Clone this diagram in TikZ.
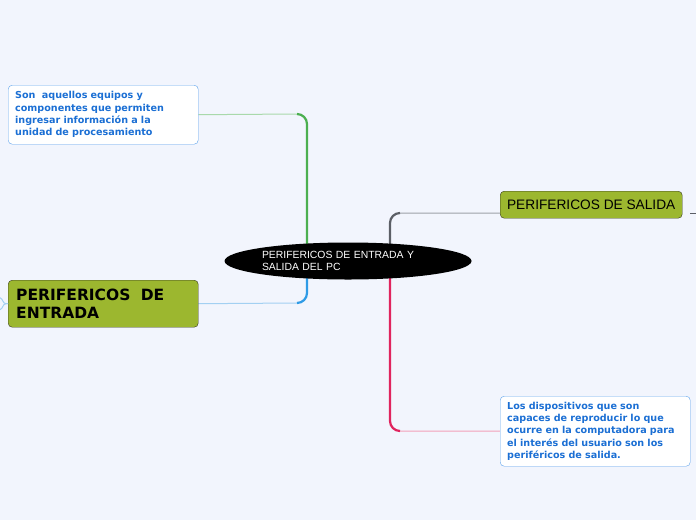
\documentclass[tikz,border=0pt]{standalone}
\usepackage{fontspec}
\setmainfont{Liberation Sans}
\newfontfamily\dejavu{DejaVu Sans}
\usetikzlibrary{shapes.geometric,backgrounds}

\definecolor{fondo}{HTML}{F2F5FD}
\definecolor{oliva}{HTML}{9CB72F}
\definecolor{bordeoliva}{HTML}{3A3C22}
\definecolor{azultexto}{HTML}{1B6FD4}
\definecolor{azulborde}{HTML}{5EA3EC}
\definecolor{verde}{HTML}{4CAF50}
\definecolor{verdeclaro}{HTML}{A9D9AB}
\definecolor{azul}{HTML}{2F9BE6}
\definecolor{azulclaro}{HTML}{A3D0F2}
\definecolor{gris}{HTML}{5C5F66}
\definecolor{grisclaro}{HTML}{9DA1A8}
\definecolor{rojo}{HTML}{E0245E}
\definecolor{rojoclaro}{HTML}{F2A0B9}

\begin{document}
\begin{tikzpicture}[x=1pt,y=-1pt,
    nota/.style={draw=azulborde,fill=white,rounded corners=4,text=azultexto,
                 font=\dejavu\bfseries\fontsize{9.6}{12.3}\selectfont,
                 align=left,text width=176,minimum width=190,inner sep=0,inner xsep=7},
    tema/.style={draw=bordeoliva,fill=oliva,rounded corners=4,text=black,inner sep=0},
    centro/.style={ellipse,fill=black,text=white,minimum width=247,minimum height=37,
                   inner sep=0,text width=172,align=left,
                   font=\fontsize{10.4}{12.5}\selectfont},
    rama/.style={line width=2.2,rounded corners=10},
    hilo/.style={line width=1}]

  \useasboundingbox (0,0) rectangle (696,520);

  \node[centro]                       (pc)     at (348,261) {PERIFERICOS DE ENTRADA Y\\SALIDA DEL PC};
  \node[nota,anchor=north west,minimum height=59] (info1) at (8,85)
        {Son\ \ aquellos equipos y\\componentes que permiten\\ingresar información a la\\unidad de procesamiento};
  \node[tema,anchor=north west,minimum width=190,minimum height=47,text width=174,align=left,
        font=\dejavu\bfseries\fontsize{15.5}{18.5}\selectfont] (entrada) at (8,280)
        {PERIFERICOS\ \ DE\\ENTRADA};
  \node[tema,anchor=north west,minimum width=182,minimum height=27,
        font=\fontsize{13.7}{16}\selectfont] (salida) at (500,191) {PERIFERICOS DE SALIDA};
  \node[nota,anchor=north west,minimum height=70] (info2) at (500,396)
        {Los dispositivos que son\\capaces de reproducir lo que\\ocurre en la computadora para\\el interés del usuario son los\\periféricos de salida.};

  % ramas
  \coordinate (k1) at (307,114);
  \coordinate (k2) at (307,303);
  \coordinate (k3) at (390,213);
  \coordinate (k4) at (390,431);

  \begin{scope}[on background layer]
    \fill[fondo] (0,0) rectangle (696,520);
    \draw[hilo,verdeclaro] (info1.east) -- ([xshift=-10]k1);
    \draw[rama,verde] ([xshift=-10]k1) -- (k1) -- (pc.center -| k1);
    \draw[hilo,azulclaro] (entrada.east) -- ([xshift=-10]k2);
    \draw[rama,azul] ([xshift=-10]k2) -- (k2) -- (pc.center -| k2);
    \draw[hilo,grisclaro] ([yshift=-8.5]salida.west) -- ([xshift=10]k3);
    \draw[rama,gris] ([xshift=10]k3) -- (k3) -- (pc.center -| k3);
    \draw[hilo,rojoclaro] (info2.west) -- ([xshift=10]k4);
    \draw[rama,rojo] ([xshift=10]k4) -- (k4) -- (pc.center -| k4);
  \end{scope}

  % hijos fuera del cuadro
  \draw[hilo,gris] ([xshift=8,yshift=-8.5]salida.east) -- ++(6,0);
  \draw[hilo,azulclaro] (entrada.west) -- ++(-2,0) to[out=180,in=-20] ++(-6,-6);
  \draw[hilo,azulclaro] (entrada.west) -- ++(-2,0) to[out=180,in=20] ++(-6,6);
\end{tikzpicture}
\end{document}
